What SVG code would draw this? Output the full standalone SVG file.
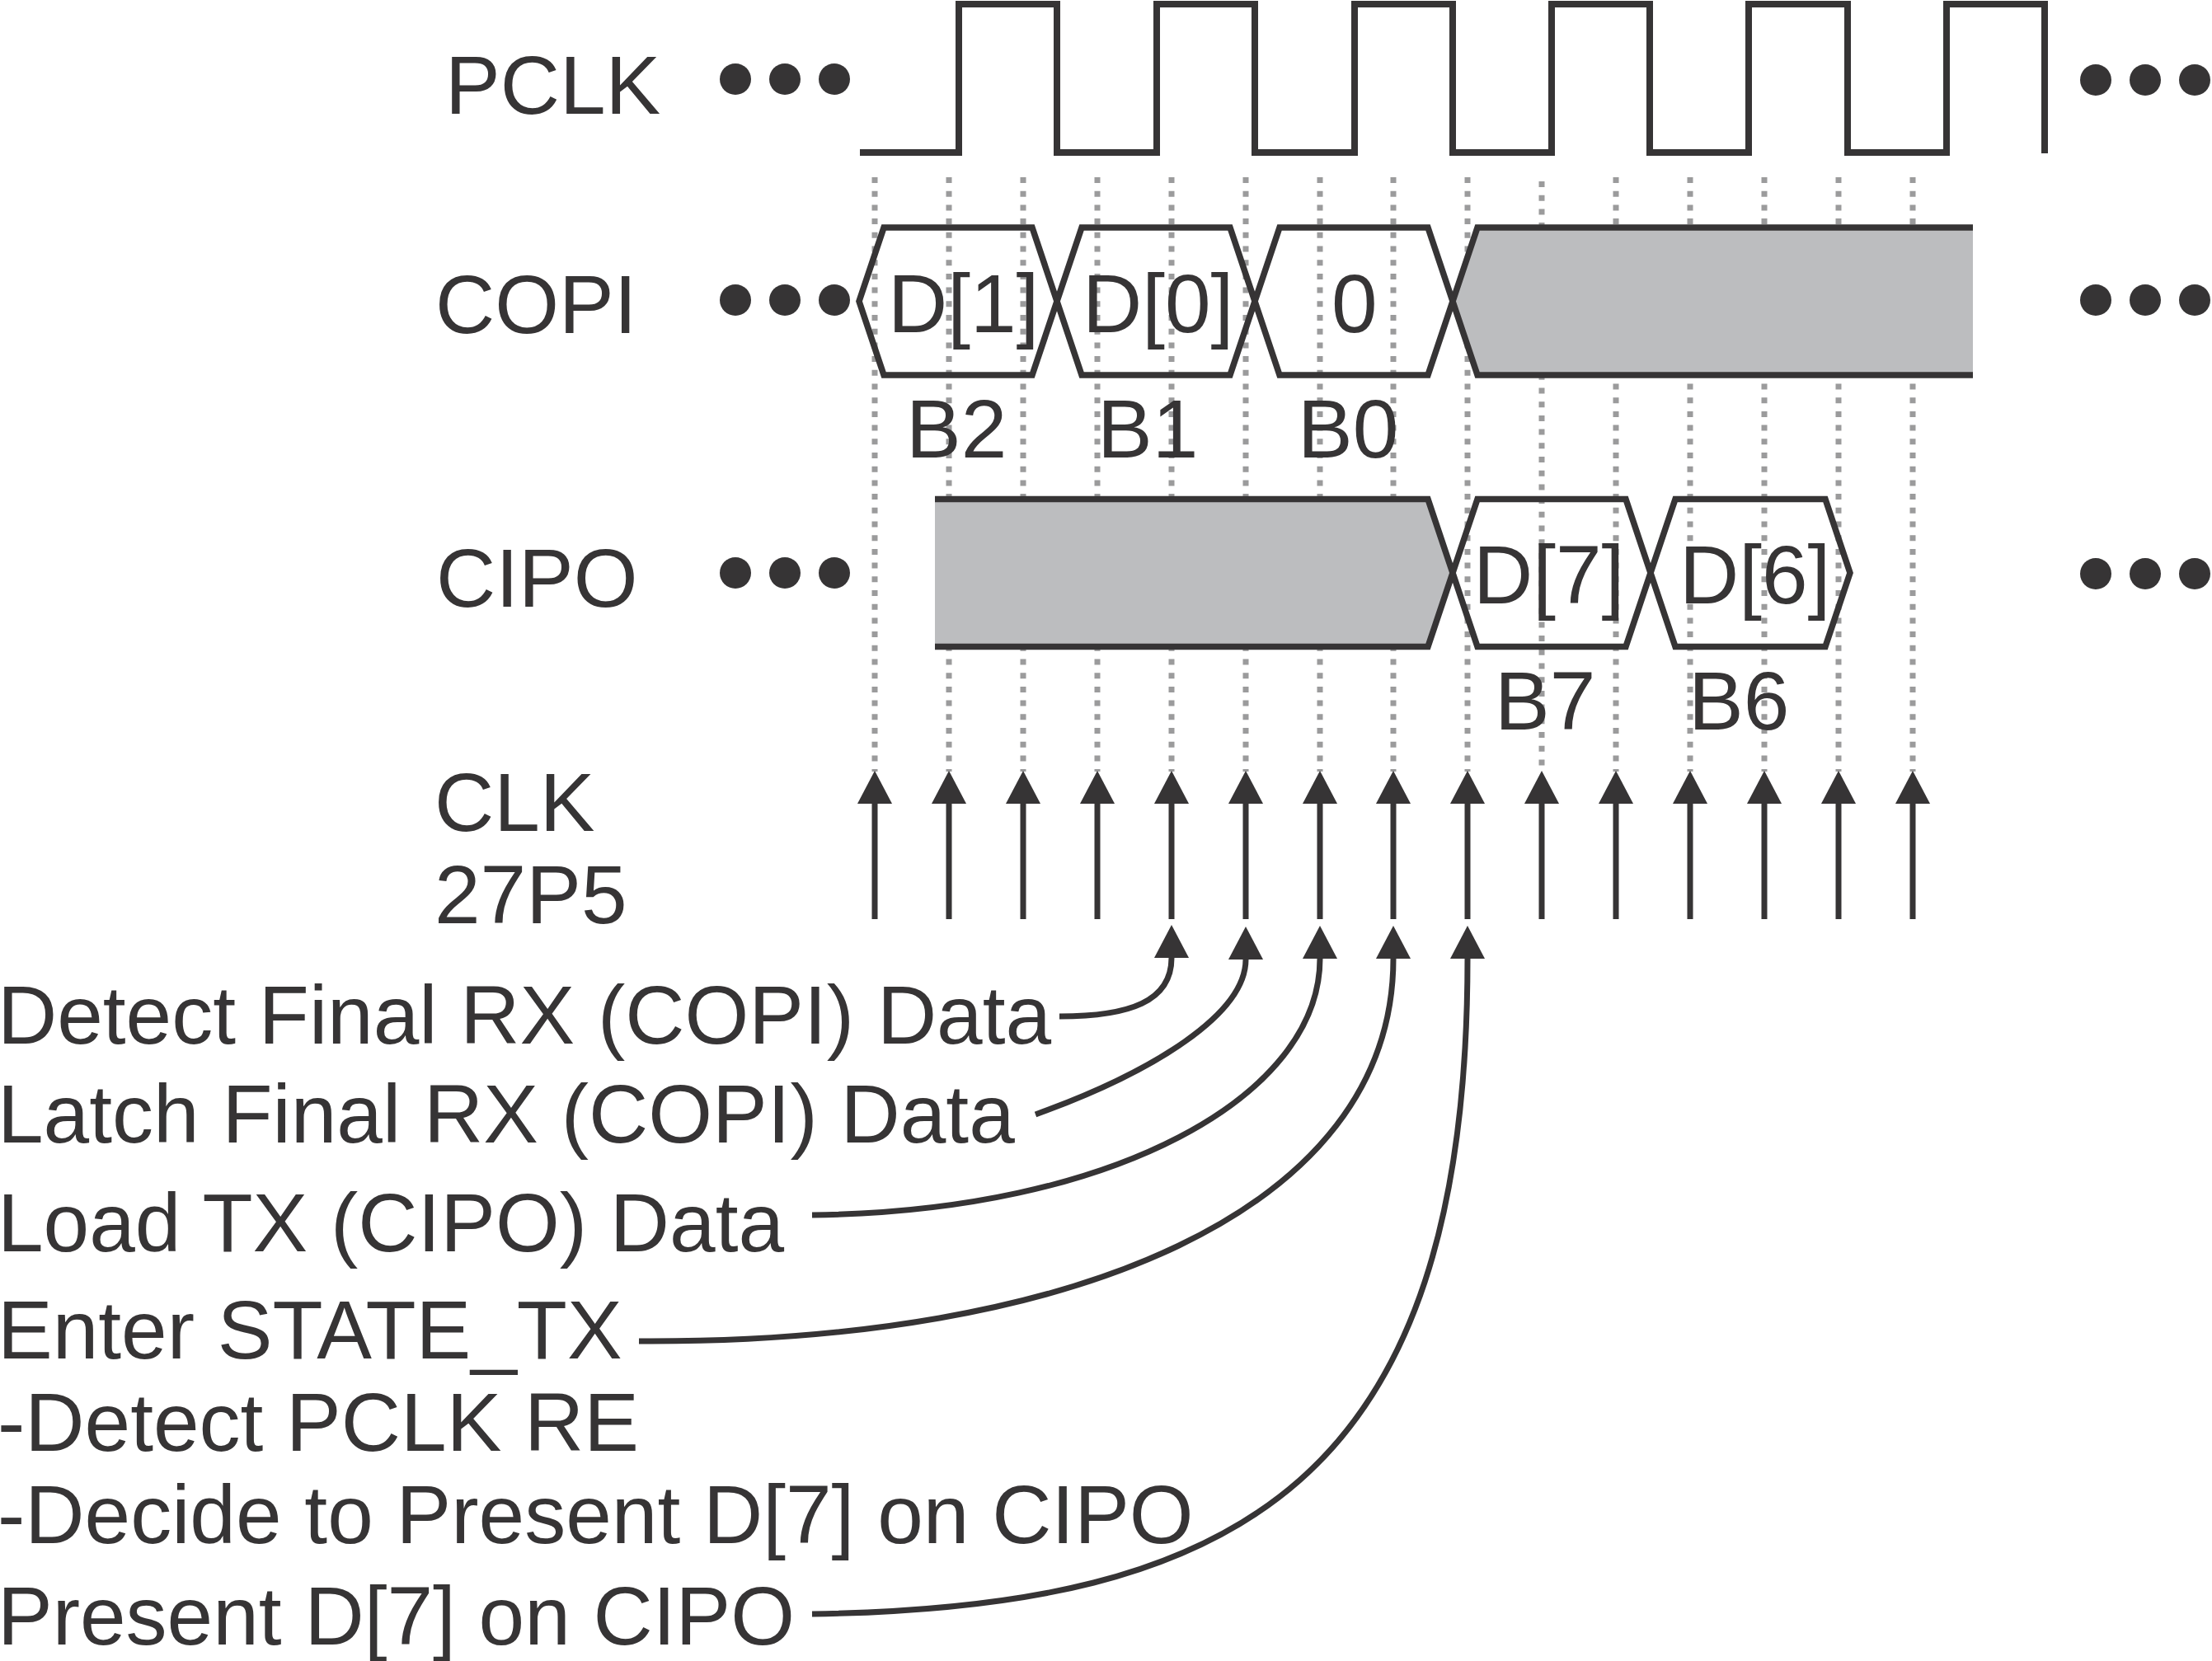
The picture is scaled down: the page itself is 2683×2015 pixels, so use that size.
<svg xmlns="http://www.w3.org/2000/svg" width="2683" height="2015" viewBox="0 0 2683 2015">
<style>
.t{font-family:"Liberation Sans",Arial,sans-serif;font-size:100px;fill:#363435}
.w{fill:none;stroke:#363435;stroke-width:8;stroke-linejoin:miter}
.hx{fill:none;stroke:#363435;stroke-width:7.5;stroke-linejoin:miter}
.gf{fill:#bcbdbf;stroke:none}
.gd{stroke:#9b9b9c;stroke-width:7;stroke-dasharray:7 9.7}
.dot{fill:#363435}
.ar{fill:none;stroke:#363435;stroke-width:7}
</style>
<defs>
<marker id="ah" viewBox="0 -21 40 42" markerWidth="40" markerHeight="42" refX="0" refY="0" markerUnits="userSpaceOnUse" orient="auto">
<path d="M0,-21 L40,0 L0,21 Z" fill="#363435"/>
</marker>
</defs>
<rect width="2683" height="2015" fill="#fff"/>

<g id="grid">
<line class="gd" x1="1061" y1="215" x2="1061" y2="936"/>
<line class="gd" x1="1151" y1="215" x2="1151" y2="936"/>
<line class="gd" x1="1241" y1="215" x2="1241" y2="936"/>
<line class="gd" x1="1331" y1="215" x2="1331" y2="936"/>
<line class="gd" x1="1421" y1="215" x2="1421" y2="936"/>
<line class="gd" x1="1511" y1="215" x2="1511" y2="936"/>
<line class="gd" x1="1601" y1="215" x2="1601" y2="936"/>
<line class="gd" x1="1690" y1="215" x2="1690" y2="936"/>
<line class="gd" x1="1780" y1="215" x2="1780" y2="936"/>
<line class="gd" x1="1870" y1="220" x2="1870" y2="936"/>
<line class="gd" x1="1960" y1="215" x2="1960" y2="936"/>
<line class="gd" x1="2050" y1="215" x2="2050" y2="936"/>
<line class="gd" x1="2140" y1="215" x2="2140" y2="936"/>
<line class="gd" x1="2230" y1="215" x2="2230" y2="936"/>
<line class="gd" x1="2320" y1="215" x2="2320" y2="936"/>
</g>

<g id="pclk">
<text class="t" x="540" y="138">PCLK</text>
<circle class="dot" cx="892" cy="96" r="19"/><circle class="dot" cx="952" cy="96" r="19"/><circle class="dot" cx="1012" cy="96" r="19"/>
<path class="w" d="M1043,185 H1163 V5 H1282 V185 H1403 V5 H1522 V185 H1643 V5 H1762 V185 H1882 V5 H2001 V185 H2121 V5 H2241 V185 H2361 V5 H2480 V186"/>
<circle class="dot" cx="2542" cy="97" r="19"/><circle class="dot" cx="2602" cy="97" r="19"/><circle class="dot" cx="2662" cy="97" r="19"/>
</g>

<g id="copi">
<text class="t" x="528" y="404">COPI</text>
<circle class="dot" cx="892" cy="364" r="19"/><circle class="dot" cx="952" cy="364" r="19"/><circle class="dot" cx="1012" cy="364" r="19"/>
<polygon class="gf" points="1762,365.5 1792,276 2393,276 2393,455 1792,455"/>
<path class="hx" d="M2393,276 H1792 L1762,365.5 L1792,455 H2393"/>
<polygon class="hx" points="1042,365.5 1072,276 1252,276 1282,365.5 1252,455 1072,455"/>
<polygon class="hx" points="1282,365.5 1312,276 1492,276 1522,365.5 1492,455 1312,455"/>
<polygon class="hx" points="1522,365.5 1552,276 1732,276 1762,365.5 1732,455 1552,455"/>
<text class="t" x="1077" y="403">D[1]</text>
<text class="t" x="1313" y="403">D[0]</text>
<text class="t" x="1615" y="403">0</text>
<text class="t" x="1099" y="555">B2</text>
<text class="t" x="1331" y="555">B1</text>
<text class="t" x="1574" y="555">B0</text>
<circle class="dot" cx="2542" cy="364" r="19"/><circle class="dot" cx="2602" cy="364" r="19"/><circle class="dot" cx="2662" cy="364" r="19"/>
</g>

<g id="cipo">
<text class="t" x="529" y="736">CIPO</text>
<circle class="dot" cx="892" cy="695" r="19"/><circle class="dot" cx="952" cy="695" r="19"/><circle class="dot" cx="1012" cy="695" r="19"/>
<polygon class="gf" points="1134,605.5 1732,605.5 1762,695 1732,784.5 1134,784.5"/>
<path class="hx" d="M1134,605.5 H1732 L1762,695 L1732,784.5 H1134"/>
<polygon class="hx" points="1762,695 1792,605.5 1972,605.5 2002,695 1972,784.5 1792,784.5"/>
<polygon class="hx" points="2002,695 2032,605.5 2214,605.5 2244,695 2214,784.5 2032,784.5"/>
<text class="t" x="1787" y="732">D[7]</text>
<text class="t" x="2037" y="732">D[6]</text>
<text class="t" x="1813" y="885">B7</text>
<text class="t" x="2048" y="885">B6</text>
<circle class="dot" cx="2542" cy="696" r="19"/><circle class="dot" cx="2602" cy="696" r="19"/><circle class="dot" cx="2662" cy="696" r="19"/>
</g>

<g id="clk">
<text class="t" x="527" y="1008">CLK</text>
<text class="t" x="527" y="1120">27P5</text>
<line class="ar" x1="1061" y1="1115" x2="1061" y2="975" marker-end="url(#ah)"/>
<line class="ar" x1="1151" y1="1115" x2="1151" y2="975" marker-end="url(#ah)"/>
<line class="ar" x1="1241" y1="1115" x2="1241" y2="975" marker-end="url(#ah)"/>
<line class="ar" x1="1331" y1="1115" x2="1331" y2="975" marker-end="url(#ah)"/>
<line class="ar" x1="1421" y1="1115" x2="1421" y2="975" marker-end="url(#ah)"/>
<line class="ar" x1="1511" y1="1115" x2="1511" y2="975" marker-end="url(#ah)"/>
<line class="ar" x1="1601" y1="1115" x2="1601" y2="975" marker-end="url(#ah)"/>
<line class="ar" x1="1690" y1="1115" x2="1690" y2="975" marker-end="url(#ah)"/>
<line class="ar" x1="1780" y1="1115" x2="1780" y2="975" marker-end="url(#ah)"/>
<line class="ar" x1="1870" y1="1115" x2="1870" y2="975" marker-end="url(#ah)"/>
<line class="ar" x1="1960" y1="1115" x2="1960" y2="975" marker-end="url(#ah)"/>
<line class="ar" x1="2050" y1="1115" x2="2050" y2="975" marker-end="url(#ah)"/>
<line class="ar" x1="2140" y1="1115" x2="2140" y2="975" marker-end="url(#ah)"/>
<line class="ar" x1="2230" y1="1115" x2="2230" y2="975" marker-end="url(#ah)"/>
<line class="ar" x1="2320" y1="1115" x2="2320" y2="975" marker-end="url(#ah)"/>
</g>

<g id="notes">
<text class="t" x="-3" y="1266">Detect Final RX (COPI) Data</text>
<text class="t" x="-3" y="1386">Latch Final RX (COPI) Data</text>
<text class="t" x="-3" y="1518">Load TX (CIPO) Data</text>
<text class="t" x="-3" y="1648">Enter STATE_TX</text>
<text class="t" x="-3" y="1760">-Detect PCLK RE</text>
<text class="t" x="-3" y="1872">-Decide to Present D[7] on CIPO</text>
<text class="t" x="-3" y="1995">Present D[7] on CIPO</text>
</g>

<g id="connectors">
<path class="ar" d="M1285,1233 C1370,1233 1421,1215 1421,1162" marker-end="url(#ah)"/>
<path class="ar" d="M1256,1352 C1400,1300 1511,1230 1511,1164" marker-end="url(#ah)"/>
<path class="ar" d="M985,1474 C1350,1470 1601,1330 1601,1163" marker-end="url(#ah)"/>
<path class="ar" d="M775,1627 C1300,1630 1690,1470 1690,1163" marker-end="url(#ah)"/>
<path class="ar" d="M985,1958 C1500,1950 1780,1800 1780,1163" marker-end="url(#ah)"/>
</g>
</svg>
